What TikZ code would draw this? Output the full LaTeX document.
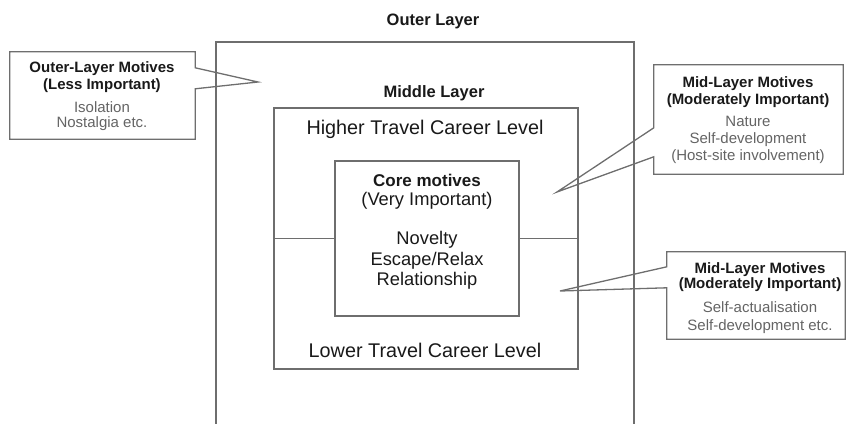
\documentclass[tikz,border=0pt]{standalone}
\usepackage{fontspec}
\setmainfont{Liberation Sans}
\usetikzlibrary{positioning}
\definecolor{layerLine}{RGB}{110,110,110}
\definecolor{layerText}{RGB}{25,25,25}
\definecolor{motiveText}{RGB}{100,100,100}

\begin{document}
\begin{tikzpicture}[
  x=1pt, y=1pt,
  every node/.style={inner sep=0pt, text=layerText},
  layer/.style={draw=layerLine, line width=1.3pt},
  callout/.style={draw=layerLine, line width=1.3pt, line join=miter},
  ttl/.style={font=\fontsize{16.5}{19}\selectfont\bfseries},
  lvl/.style={font=\fontsize{19.8}{22}\selectfont},
  calltext/.style={align=center, anchor=north, font=\fontsize{15}{17}\selectfont}
]
\useasboundingbox (0,0) rectangle (848,-423);

\node[layer, minimum width=418pt, minimum height=391pt] (outer) at (425,-237.5) {};
\node[layer, minimum width=304pt, minimum height=261pt] (mid)   at (426,-238.5) {};
\node[layer, minimum width=184pt, minimum height=155pt] (core)  at (427,-238.5) {};

\draw[layer] (mid.west) -- (core.west);
\draw[layer] (core.east) -- (mid.east);

\node[ttl] (outerttl) at (433,-21) {Outer Layer};
\node[ttl] (midttl)   at (434,-93) {Middle Layer};
\node[lvl] (higher)   at (425,-129) {Higher Travel Career Level};
\node[lvl] (lower)    at (425,-350) {Lower Travel Career Level};

\node[align=center, anchor=north, font=\fontsize{18.3}{20}\selectfont] (coretext) at (427,-174)
  {{\fontsize{17}{20}\selectfont\bfseries Core motives}\\[-1pt]
   (Very Important)\\[19pt]
   Novelty\\[1pt]
   Escape/Relax\\
   Relationship};

\node[minimum width=185pt, minimum height=87pt]  (lbox)  at (102.5,-95.5) {};
\node[minimum width=189pt, minimum height=109pt] (rbox1) at (748.5,-119.5) {};
\node[minimum width=178pt, minimum height=87pt]  (rbox2) at (756,-295.5) {};
\coordinate (ltip)  at (258,-82);
\coordinate (rtip1) at (557,-192);
\coordinate (rtip2) at (560,-291);

\draw[callout] (lbox.north west) -- (lbox.north east) -- ([yshift=-16pt]lbox.north east)
  -- (ltip) -- ([yshift=-37pt]lbox.north east) -- (lbox.south east) -- (lbox.south west) -- cycle;
\draw[callout] (rbox1.north east) -- (rbox1.north west) -- ([yshift=-63pt]rbox1.north west)
  -- (rtip1) -- ([yshift=-92pt]rbox1.north west) -- (rbox1.south west) -- (rbox1.south east) -- cycle;
\draw[callout] (rbox2.north east) -- (rbox2.north west) -- ([yshift=-15pt]rbox2.north west)
  -- (rtip2) -- ([yshift=-36pt]rbox2.north west) -- (rbox2.south west) -- (rbox2.south east) -- cycle;

\node[calltext] (ltext) at (102,-61.6)
  {{\bfseries Outer-Layer Motives}\\
   {\bfseries (Less Important)}\\[6pt]
   \textcolor{motiveText}{Isolation}\\[-2pt]
   \textcolor{motiveText}{Nostalgia etc.}};
\node[calltext] (rtext1) at (748,-76.6)
  {{\bfseries Mid-Layer Motives}\\
   {\bfseries (Moderately Important)}\\[5pt]
   \textcolor{motiveText}{Nature}\\
   \textcolor{motiveText}{Self-development}\\
   \textcolor{motiveText}{(Host-site involvement)}};
\node[calltext] (rtext2) at (760,-262.6)
  {{\bfseries Mid-Layer Motives}\\[-2pt]
   {\bfseries (Moderately Important)}\\[7pt]
   \textcolor{motiveText}{Self-actualisation}\\[0.5pt]
   \textcolor{motiveText}{Self-development etc.}};
\end{tikzpicture}
\end{document}
